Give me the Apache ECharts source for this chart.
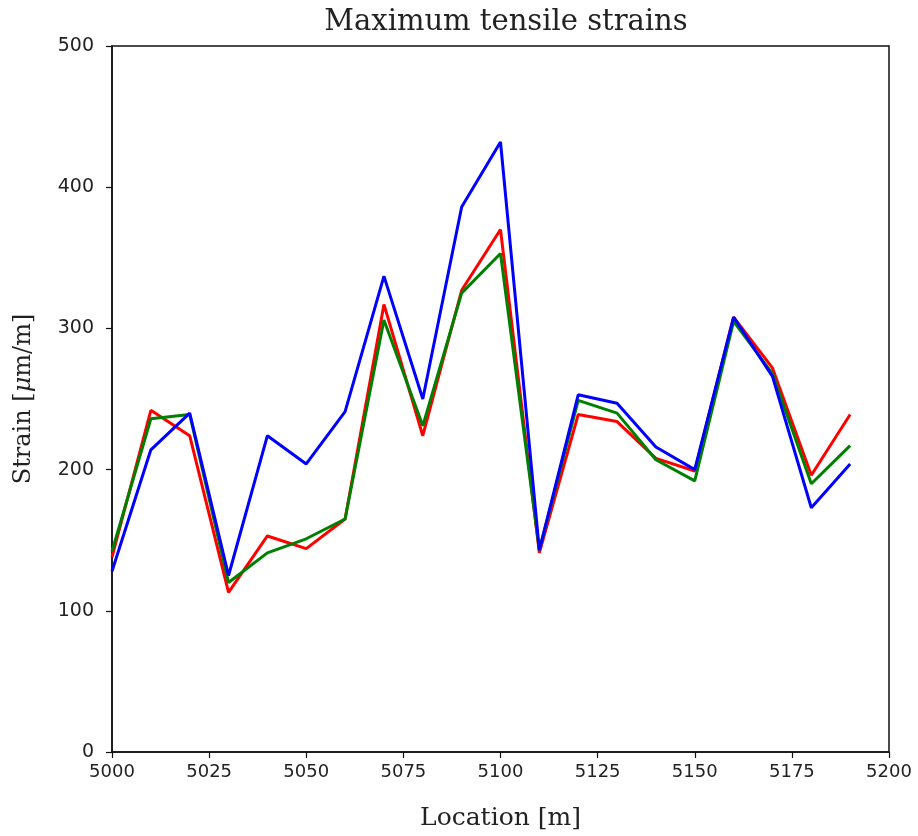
<!DOCTYPE html>
<html>
<head>
<meta charset="utf-8">
<script src="https://cdn.jsdelivr.net/npm/echarts@6/dist/echarts.min.js"></script>
<style>html,body{margin:0;padding:0;background:#fff;}#c{width:918px;height:836px;}</style>
</head>
<body>
<div id="c"></div>
<script>
const locations = [5000,5010,5020,5030,5040,5050,5060,5070,5080,5090,5100,5110,5120,5130,5140,5150,5160,5170,5180,5190];
const redValues   = [138,242,224,113,153,144,165,317,224,327,370,141,239,234,208,199,308,272,196,239];
const greenValues = [142,236,239,120,141,151,165,306,231,325,353,143,249,240,207,192,305,268,190,217];
const blueValues  = [128,214,240,125,224,204,241,337,250,386,432,143,253,247,216,200,308,266,173,204];
const xTicks = {min:5000, max:5200, step:25};
const yTicks = {min:0, max:500, step:100};

const pairs = v => locations.map((x,i)=>[x, v[i]]);
const serif = 'DejaVu Serif';
const sans = 'DejaVu Sans';
const chart = echarts.init(document.getElementById('c'), null, {renderer:'canvas'});
chart.setOption({
  animation:false,
  backgroundColor:'#fff',
  title:{text:'Maximum tensile strains', left:501, textAlign:'center', top:3,
    textStyle:{fontFamily:serif, fontSize:29, fontWeight:'normal', color:'#222'}},
  grid:{left:112, width:777, top:46, height:710, show:true, borderColor:'#111', borderWidth:1.5, backgroundColor:'transparent'},
  xAxis:{type:'value', min:xTicks.min, max:xTicks.max, interval:xTicks.step,
    name:'Location [m]', nameLocation:'middle', nameGap:54,
    nameTextStyle:{fontFamily:serif, fontSize:25, color:'#222'},
    axisLine:{show:true, onZero:false, lineStyle:{color:'#111', width:1.5}},
    axisTick:{show:true, length:6, lineStyle:{color:'#111', width:1.2}},
    axisLabel:{fontFamily:sans, fontSize:18, color:'#222', margin:11, formatter:v=>String(v)},
    splitLine:{show:false}},
  yAxis:{type:'value', min:yTicks.min, max:yTicks.max, interval:yTicks.step,
    name:'{n|Strain [}{m|μ}{n|m/m]}', nameLocation:'middle', nameGap:76, nameRotate:90,
    nameTextStyle:{rich:{n:{fontFamily:serif, fontSize:24, color:'#222'}, m:{fontFamily:serif, fontStyle:'italic', fontSize:24, color:'#222'}}},
    axisLine:{show:true, lineStyle:{color:'#111', width:1.5}},
    axisTick:{show:true, length:6, lineStyle:{color:'#111', width:1.2}},
    axisLabel:{fontFamily:sans, fontSize:19, color:'#222', margin:18},
    splitLine:{show:false}},
  series:[
    {type:'line', data:pairs(redValues), showSymbol:false, lineStyle:{color:'#ff0000', width:3}, itemStyle:{color:'#ff0000'}},
    {type:'line', data:pairs(greenValues), showSymbol:false, lineStyle:{color:'#008000', width:3}, itemStyle:{color:'#008000'}},
    {type:'line', data:pairs(blueValues), showSymbol:false, lineStyle:{color:'#0000ff', width:3}, itemStyle:{color:'#0000ff'}}
  ]
});
</script>
</body>
</html>
